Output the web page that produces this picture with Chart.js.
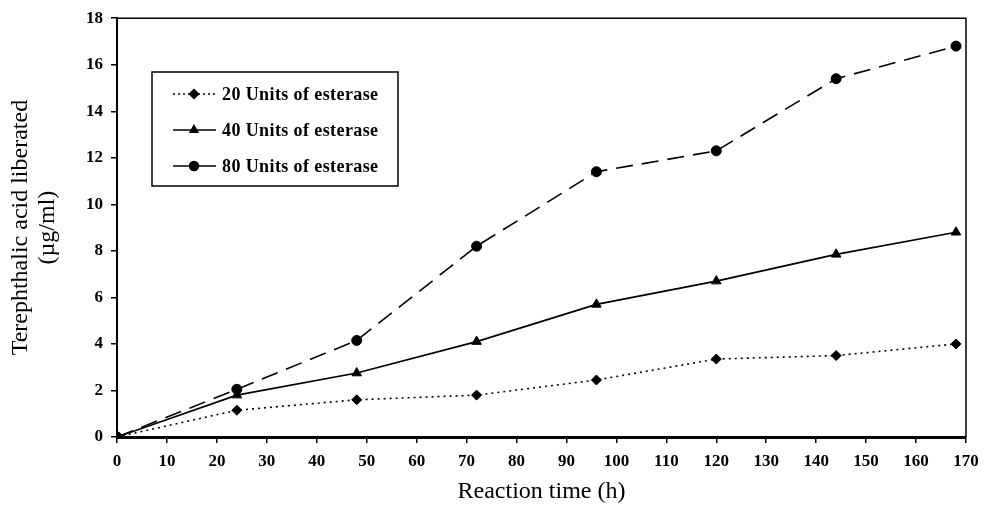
<!DOCTYPE html>
<html>
<head>
<meta charset="utf-8">
<script src="https://cdn.jsdelivr.net/npm/chart.js@4/dist/chart.umd.min.js"></script>
<style>
  html, body { margin: 0; padding: 0; background: #fff; }
  #wrap { width: 994px; height: 508px; }
</style>
</head>
<body>
<div id="wrap"><canvas id="graph" width="994" height="508"></canvas></div>
<script>
// reaction time (h)
const hours = [0, 24, 48, 72, 96, 120, 144, 168];
// terephthalic acid liberated (ug/ml)
const units20 = [0, 1.15, 1.6, 1.8, 2.45, 3.35, 3.5, 4.0];
const units40 = [0, 1.8, 2.75, 4.1, 5.7, 6.7, 7.85, 8.8];
const units80 = [0, 2.05, 4.15, 8.2, 11.4, 12.3, 15.4, 16.8];
const seriesNames = ["20 Units of esterase", "40 Units of esterase", "80 Units of esterase"];

const serif = "'Liberation Serif', 'Times New Roman', serif";

function pts(vals) {
  return hours.map((h, i) => ({ x: h, y: vals[i] }));
}

// legend box drawn inside the plot, plus top/right frame lines
const boxPlugin = {
  id: "box",
  afterDraw(chart) {
    const ctx = chart.ctx;
    const a = chart.chartArea;
    ctx.save();
    ctx.strokeStyle = "#000";
    ctx.lineWidth = 1.5;
    ctx.beginPath();
    ctx.moveTo(a.left, a.top);
    ctx.lineTo(a.right, a.top);
    ctx.lineTo(a.right, a.bottom);
    ctx.stroke();

    // legend
    const lx = 152, ly = 72, lw = 246, lh = 114;
    ctx.lineWidth = 1.5;
    ctx.strokeRect(lx, ly, lw, lh);
    const styles = [
      { dash: [2, 3], shape: "rectRot" },
      { dash: [], shape: "triangle" },
      { dash: [], shape: "circle" }
    ];
    ctx.font = "bold 18px " + serif;
    ctx.letterSpacing = "0.4px";
    ctx.textBaseline = "middle";
    ctx.fillStyle = "#000";
    seriesNames.forEach((name, i) => {
      const y = ly + 22 + i * 36;
      ctx.setLineDash(styles[i].dash);
      ctx.lineWidth = 1.5;
      ctx.beginPath();
      ctx.moveTo(173, y);
      ctx.lineTo(216, y);
      ctx.stroke();
      ctx.setLineDash([]);
      Chart.helpers.drawPoint(ctx, { pointStyle: styles[i].shape, radius: 4.5, borderWidth: 1 }, 194, y);
      ctx.fill();
      ctx.fillText(name, 222, y + 1);
    });
    ctx.restore();
  }
};

const ds = (label, vals, shape, dash, r) => ({
  label: label,
  data: pts(vals),
  borderColor: "#000",
  backgroundColor: "#000",
  borderWidth: 1.6,
  borderDash: dash,
  pointStyle: shape,
  pointRadius: r,
  pointBorderWidth: 1,
  tension: 0
});

new Chart(document.getElementById("graph"), {
  type: "line",
  data: {
    datasets: [
      ds(seriesNames[0], units20, "rectRot", [2, 4], 5),
      ds(seriesNames[1], units40, "triangle", [], 5.5),
      ds(seriesNames[2], units80, "circle", [17, 9], 5)
    ]
  },
  options: {
    responsive: false,
    animation: false,
    layout: { padding: { left: 0, top: 15, right: 28, bottom: 0 } },
    plugins: { legend: { display: false }, tooltip: { enabled: false } },
    scales: {
      x: {
        type: "linear",
        min: 0, max: 170,
        afterFit: (s) => { s.height = 71; },
        ticks: { stepSize: 10, color: "#000", padding: 8, maxRotation: 0,
                 font: { family: serif, size: 17, weight: "bold" } },
        grid: { drawOnChartArea: false, drawTicks: true, tickLength: 6, color: "#000", lineWidth: 1.5 },
        border: { color: "#000", width: 3 },
        title: { display: true, text: "Reaction time (h)", color: "#000",
                 font: { family: serif, size: 24 }, padding: { top: 2, bottom: 2 } }
      },
      y: {
        min: 0, max: 18,
        afterFit: (s) => { s.width = 117; },
        ticks: { stepSize: 2, color: "#000", padding: 8,
                 font: { family: serif, size: 17, weight: "bold" } },
        grid: { drawOnChartArea: false, drawTicks: true, tickLength: 6, color: "#000", lineWidth: 1.5 },
        border: { color: "#000", width: 2 },
        title: { display: true, text: ["Terephthalic acid liberated", "(\u00b5g/ml)"], color: "#000",
                 font: { family: serif, size: 24, lineHeight: 1.1 }, padding: { top: 8, bottom: 4 } }
      }
    }
  },
  plugins: [boxPlugin]
});
</script>
</body>
</html>
